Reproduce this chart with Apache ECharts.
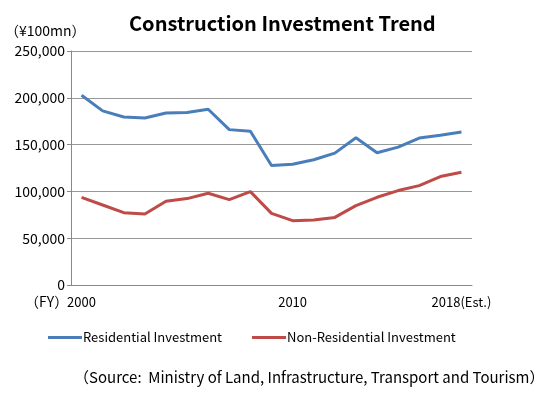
<!DOCTYPE html>
<html>
<head>
<meta charset="utf-8">
<script src="https://cdn.jsdelivr.net/npm/echarts@6/dist/echarts.min.js"></script>
<style>
  html, body { margin: 0; padding: 0; background: #fff; }
  #chart { width: 549px; height: 399px; }
</style>
</head>
<body>
<div id="chart"></div>
<script>
const years = ['2000', '2001', '2002', '2003', '2004', '2005', '2006', '2007', '2008', '2009',
  '2010', '2011', '2012', '2013', '2014', '2015', '2016', '2017', '2018'];
const residential = [202800, 186000, 179500, 178400, 183800, 184200, 187800, 166000, 164200, 127700,
  129100, 133800, 140900, 157400, 141300, 147300, 157000, 159900, 163400];
const nonResidential = [93700, 85500, 77300, 75800, 89400, 92300, 98000, 91200, 99800, 76500,
  68700, 69400, 72200, 84800, 93700, 100900, 106200, 115900, 120500];
const shownYears = { 0: '2000', 10: '2010', 18: '2018(Est.)' };

const font = '"Noto Sans CJK JP", "Noto Sans", sans-serif';

const option = {
  animation: false,
  color: ['#4A7EBB', '#BE4B48'],
  title: {
    text: 'Construction Investment Trend',
    left: 124,
    top: 8,
    textStyle: { fontFamily: font, fontSize: 20, fontWeight: 'bold', color: '#000' },
  },
  legend: {
    bottom: 50,
    left: 43,
    itemGap: 30,
    itemWidth: 34,
    itemHeight: 3,
    icon: 'rect',
    textStyle: { fontFamily: font, fontSize: 13, color: '#000', padding: [0, 0, 0, -4] },
    data: ['Residential Investment', 'Non-Residential Investment'],
  },
  grid: {
    left: 71,
    right: 77,
    top: 51,
    bottom: 114,
    containLabel: false,
  },
  xAxis: {
    type: 'category',
    data: years,
    boundaryGap: true,
    axisLine: { lineStyle: { color: '#888' } },
    axisTick: { interval: 0, length: 4, lineStyle: { color: '#888' } },
    axisLabel: {
      interval: 0,
      margin: 11,
      fontFamily: font,
      fontSize: 13,
      color: '#000',
      formatter: (v, i) => shownYears[i] || '',
    },
  },
  yAxis: {
    type: 'value',
    min: 0,
    max: 250000,
    interval: 50000,
    axisLine: { show: true, lineStyle: { color: '#888' } },
    axisTick: { show: true, inside: false, length: 4, lineStyle: { color: '#888' } },
    splitLine: { lineStyle: { color: '#999' } },
    axisLabel: {
      fontFamily: font,
      fontSize: 14,
      color: '#000',
      margin: 6,
      formatter: (v) => v.toLocaleString('en-US'),
    },
  },
  graphic: [
    {
      type: 'text',
      left: 5,
      top: 24,
      style: { text: '（¥100mn）', fontFamily: font, fontSize: 14, fill: '#000' },
    },
    {
      type: 'text',
      left: 25,
      top: 295,
      style: { text: '（FY）', fontFamily: font, fontSize: 14, fill: '#000' },
    },
    {
      type: 'text',
      left: 74,
      top: 370,
      style: {
        text: '（Source:  Ministry of Land, Infrastructure, Transport and Tourism）',
        fontFamily: font, fontSize: 15, fill: '#000',
      },
    },
  ],
  series: [
    {
      name: 'Residential Investment',
      type: 'line',
      data: residential,
      symbol: 'none',
      lineStyle: { width: 3 },
    },
    {
      name: 'Non-Residential Investment',
      type: 'line',
      data: nonResidential,
      symbol: 'none',
      lineStyle: { width: 3 },
    },
  ],
};

const myChart = echarts.init(document.getElementById('chart'));
myChart.setOption(option);
</script>
</body>
</html>
